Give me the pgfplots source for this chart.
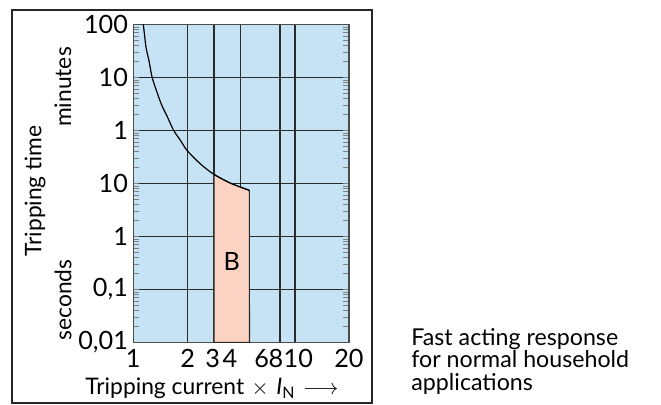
\documentclass[border=0pt]{standalone}
\usepackage{fontspec}
\setmainfont{Lato}
\usepackage{pgfplots}
\pgfplotsset{compat=1.18}
\definecolor{bgblue}{HTML}{C6E2F5}
\definecolor{pinkb}{HTML}{FCD3C2}
\definecolor{gridc}{HTML}{2A2A2A}
\begin{document}
\fontsize{12.6}{14}\selectfont
\begin{tikzpicture}
\begin{scope}[x=0.5pt,y=-0.5pt]
\useasboundingbox (0,0) rectangle (661,404);
\draw[line width=1pt, color=black!85] (12,10) rectangle (372,403);
\begin{scope}[font=\fontsize{11.4}{13}\selectfont]
\node[rotate=90] at (35,191) {Tripping time};
\node[rotate=90] at (63,87) {minutes};
\node[rotate=90] at (63,300) {seconds};
\node[inner sep=0pt] at (212,388.5) {Tripping current\,\,$\times$\,\,{\itshape I}\textsubscript{N}\,\,$\longrightarrow$};
\end{scope}
\begin{scope}[font=\fontsize{11.6}{13}\selectfont, inner sep=0pt, anchor=base west]
\node at (411,345) {Fast acting response};
\node at (411,367.7) {for normal household};
\node at (411,390.4) {applications};
\end{scope}
\end{scope}
\begin{axis}[
  at={(66.65pt,-171.15pt)}, anchor=south west,
  scale only axis, width=107.85pt, height=159pt,
  xmin=0, xmax=215.7,
  ymode=log, ymin=0.01, ymax=10000,
  axis background/.style={fill=bgblue},
  axis line style={draw=black!70, line width=0.65pt},
  grid=major,
  major grid style={draw=gridc, line width=0.6pt},
  major tick length=0pt,
  xtick={0,54.2,80.7,107.4,146.7,161.7,215.7},
  xticklabels={},
  extra x ticks={0,54.4,79.4,96.7,128.4,142.7,165,215.7},
  extra x tick labels={\mbox{1},\mbox{2},\mbox{3},\mbox{4},\mbox{6},\mbox{8},\mbox{10},\mbox{20}},
  extra x tick style={grid=none, major tick length=0pt},
  xticklabel style={inner ysep=0pt, yshift=-3.4pt},
  ytick={0.01,0.1,1,10,100,1000,10000},
  yticklabels={\mbox{0,01},\mbox{0,1},\mbox{1},\mbox{10},\mbox{1},\mbox{10},\mbox{100}},
  yticklabel style={inner xsep=2.5pt},
]
\addplot[fill=pinkb, draw=gridc, line width=0.55pt] coordinates {(80.7,0.01) (80.7,14.8) (89,12.05) (97.5,10) (107,8.5) (116,7.38) (116.2,0.01)} -- cycle;
\addplot[smooth, black, line width=0.6pt] coordinates {(10,10000) (11.4,5935) (12.9,3526) (16.0,1919) (18.8,1000) (23.4,544) (28.4,300) (34.3,176) (40.3,100) (47.1,64.8) (54,41.2) (66.7,23.6) (80.5,14.8) (97.5,10) (116,7.38)};
\node at (axis cs:98.4,0.33) {B};
\end{axis}
\end{tikzpicture}
\end{document}
